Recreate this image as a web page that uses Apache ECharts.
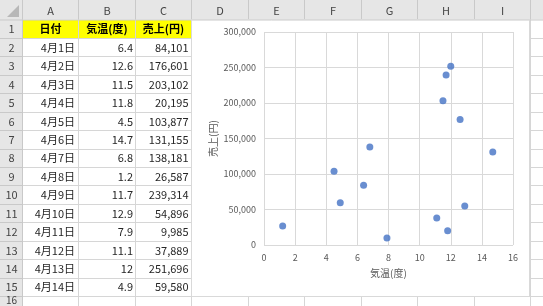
<!DOCTYPE html>
<html><head><meta charset="utf-8">
<script src="https://cdn.jsdelivr.net/npm/echarts@6/dist/echarts.min.js"></script>
<style>html,body{margin:0;padding:0;background:#fff}#c{width:543px;height:306px}</style>
</head><body><div id="c"></div>
<script>
// ---- data ----
const dates = ['4月1日','4月2日','4月3日','4月4日','4月5日','4月6日','4月7日','4月8日','4月9日','4月10日','4月11日','4月12日','4月13日','4月14日'];
const temps = [6.4, 12.6, 11.5, 11.8, 4.5, 14.7, 6.8, 1.2, 11.7, 12.9, 7.9, 11.1, 12, 4.9];
const sales = [84101, 176601, 203102, 20195, 103877, 131155, 138181, 26587, 239314, 54896, 9985, 37889, 251696, 59580];
const headers = ['日付', '気温(度)', '売上(円)'];
const colLetters = ['A','B','C','D','E','F','G','H','I'];
const xAxisTitle = '気温(度)';
const yAxisTitle = '売上(円)';

// ---- layout ----
const FONT = '"Noto Sans CJK JP", "Noto Sans", sans-serif';
const colB = [22, 78, 135, 191, 248, 304, 361, 417, 474, 530]; // column boundaries
const headerH = 19.5;
const rowH = 18.43;
const rowTop = k => 19.5 + k * rowH; // top of row k+1
const chartL = 191.5, chartT = 19.5, chartR = 529.5, chartB = 296.5;
const gridColor = '#d6d6d6';
const hdrFill = '#e6e6e6';
const hdrLine = '#c9c9c9';

const fmt = v => Number(v).toLocaleString('en-US');

const g = [];
let uid = 0;
function add(el) { el.id = 'e' + (uid++); el.silent = true; g.push(el); }
function line(x1, y1, x2, y2, color) {
  add({type: 'line', shape: {x1, y1, x2, y2}, style: {stroke: color, lineWidth: 1}});
}
function text(str, x, y, align, opts) {
  opts = opts || {};
  add({type: 'text', x: x, y: y, style: {
    text: str, fill: opts.fill || '#262626',
    font: (opts.weight || 'normal') + ' ' + (opts.size || 11) + 'px ' + FONT,
    align: align, verticalAlign: 'middle'
  }});
}
function rect(x, y, w, h, fill) {
  add({type: 'rect', shape: {x, y, width: w, height: h}, style: {fill}});
}
// header backgrounds
rect(0, 0, 543, headerH, hdrFill);
rect(0, 0, colB[0] + 0.5, 306, hdrFill);
// corner triangle
add({type: 'polygon', shape: {points: [[19, 5], [19, 17], [7, 17]]}, style: {fill: '#b8b8b8'}});
// yellow header cells (row 1, A..C)
rect(colB[0] + 1, rowTop(0) + 0.5, colB[3] - colB[0] - 1, rowH - 0.5, '#ffff00');

// row lines
const nRows = 16;
for (let k = 1; k <= nRows; k++) {
  const y = Math.round(rowTop(k)) + 0.5;
  line(0, y, colB[0], y, hdrLine);
  if (y < chartB - 1) {
    line(colB[0], y, chartL, y, gridColor);
    line(chartR, y, 543, y, gridColor);
  } else {
    line(colB[0], y, 543, y, gridColor);
  }
}
// column lines
for (let i = 0; i < colB.length; i++) {
  const x = colB[i] + 0.5;
  line(x, 0, x, headerH, hdrLine);
  if (x <= chartL + 0.1) {
    line(x, headerH, x, 306, i === 0 ? hdrLine : gridColor);
  } else {
    line(x, chartB, x, 306, gridColor);
    if (x > chartR) line(x, headerH, x, 306, gridColor);
  }
}
line(0, headerH + 0.5, 543, headerH + 0.5, hdrLine);

// column header letters
for (let i = 0; i < colLetters.length; i++) {
  text(colLetters[i], (colB[i] + colB[i + 1]) / 2 + 0.5, 10.5, 'center', {fill: '#444', size: 11});
}
// row numbers
for (let k = 0; k < nRows; k++) {
  const yc = Math.min(rowTop(k) + rowH / 2 + 0.5, 300);
  text(String(k + 1), 11.5, yc, 'center', {fill: '#444', size: k === nRows - 1 ? 10 : 11});
}
// header row
for (let i = 0; i < headers.length; i++) {
  text(headers[i], (colB[i] + colB[i + 1]) / 2 + 0.5, rowTop(0) + rowH / 2 + 0.5, 'center', {weight: 'bold', fill: '#000'});
}
// data rows
for (let r = 0; r < dates.length; r++) {
  const y = rowTop(r + 1) + rowH / 2 + 0.5;
  text(dates[r], colB[1] - 3, y, 'right');
  text(String(temps[r]), colB[2] - 2, y, 'right');
  text(fmt(sales[r]), colB[3] - 2.5, y, 'right');
}
// chart frame (outline only)
line(chartL, chartT, chartR, chartT, '#d9d9d9');
line(chartR, chartT, chartR, chartB, '#d9d9d9');
line(chartL, chartB, chartR, chartB, '#d9d9d9');
line(chartL, chartT, chartL, chartB, '#d9d9d9');

const chart = echarts.init(document.getElementById('c'), null, {renderer: 'canvas'});
chart.setOption({
  animation: false,
  backgroundColor: '#fff',
  graphic: {elements: g},
  grid: {left: 264, top: 32, right: 30, bottom: 61},
  xAxis: {
    type: 'value', min: 0, max: 16, interval: 2,
    axisLine: {show: false}, axisTick: {show: false},
    splitLine: {lineStyle: {color: '#d9d9d9', width: 1}},
    axisLabel: {color: '#595959', fontSize: 9, margin: 8, fontFamily: FONT},
    name: xAxisTitle, nameLocation: 'middle', nameGap: 23,
    nameTextStyle: {color: '#595959', fontSize: 10, fontFamily: FONT}
  },
  yAxis: {
    type: 'value', min: 0, max: 300000, interval: 50000,
    axisLine: {show: false}, axisTick: {show: false},
    splitLine: {lineStyle: {color: '#d9d9d9', width: 1}},
    axisLabel: {color: '#595959', fontSize: 9, margin: 8, fontFamily: FONT, formatter: v => fmt(v)},
    name: yAxisTitle, nameLocation: 'middle', nameGap: 46,
    nameTextStyle: {color: '#595959', fontSize: 10, fontFamily: FONT}
  },
  series: [{
    type: 'scatter',
    data: temps.map((t, i) => [t, sales[i]]),
    symbol: 'circle', symbolSize: 7,
    itemStyle: {color: '#4472C4'},
    z: 5
  }]
});
</script>
</body></html>
